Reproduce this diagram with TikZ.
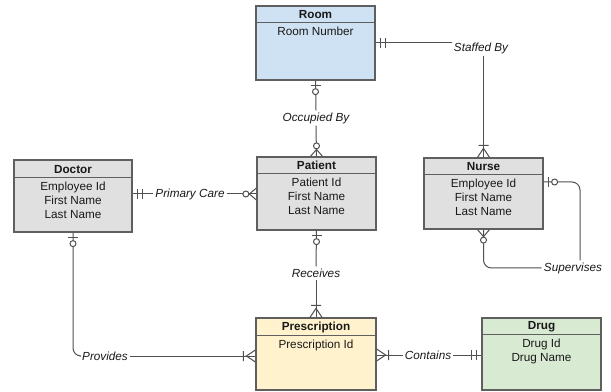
\documentclass[tikz,border=0pt]{standalone}
\usepackage{fontspec}
\setmainfont{Liberation Sans}
\usetikzlibrary{calc}

\definecolor{roomfill}{RGB}{207,226,243}
\definecolor{personfill}{RGB}{224,224,224}
\definecolor{rxfill}{RGB}{255,242,204}
\definecolor{drugfill}{RGB}{217,234,211}
\definecolor{boxline}{RGB}{95,95,95}
\definecolor{linkline}{RGB}{80,80,80}
\definecolor{ink}{RGB}{25,25,25}

\tikzset{
  entity/.style 2 args={draw=boxline, line width=0.95pt, rectangle,
    minimum width=#1*0.75pt, minimum height=#2*0.75pt, inner sep=0pt},
  divider/.style={draw=boxline, line width=0.95pt},
  title/.style={font=\fontsize{8.8}{10}\selectfont\bfseries, text=ink, inner sep=0pt},
  attrs/.style={font=\fontsize{8.8}{10.3}\selectfont, text=ink, align=center,
    inner sep=0pt, anchor=north},
  rel/.style={font=\fontsize{8.8}{10}\selectfont\itshape, text=ink, inner sep=1.5pt},
  conn/.style={draw=linkline, line width=0.75pt},
  marker/.style={draw=linkline, line width=0.75pt},
  mone/.pic={\draw[marker] (5,-5) -- (5,5) (10,-5) -- (10,5);},
  zone/.pic={\draw[marker] (5,-5) -- (5,5);
             \draw[marker, fill=white] (11,0) circle (3);},
  zmany/.pic={\draw[marker] (0,-6) -- (7,0) -- (0,6);
              \draw[marker, fill=white] (10.5,0) circle (3);},
  omany/.pic={\draw[marker] (0,-6) -- (9,0) -- (0,6) (12,-5) -- (12,5);},
}

% draws the header rule, title and attribute list of an entity box
\newcommand{\entitytext}[4]{%
  \draw[divider] ($(#1.north west)+(0,#2)$) -- ($(#1.north east)+(0,#2)$);
  \node[title] (#1-title) at ($(#1.north)+(0,#2/2+0.8)$) {#3};
  \node[attrs] (#1-attrs) at ($(#1.north)+(0,#2+4.5)$) {#4};
}

\begin{document}
\begin{tikzpicture}[x=0.75pt, y=-0.75pt]
\useasboundingbox (0,0) rectangle (611,392);

% entities
\node[entity={119}{74}, fill=roomfill]   (room)    at (315.5,43)  {};
\node[entity={118}{72}, fill=personfill] (doctor)  at (73,196)    {};
\node[entity={119}{73}, fill=personfill] (patient) at (316.5,193.5) {};
\node[entity={119}{71}, fill=personfill] (nurse)   at (483.5,193.5) {};
\node[entity={120}{72}, fill=rxfill]     (rx)      at (316,354)   {};
\node[entity={119}{72}, fill=drugfill]   (drug)    at (541.5,354) {};

\entitytext{room}{17}{Room}{Room Number}
\entitytext{doctor}{18}{Doctor}{Employee Id\\First Name\\Last Name}
\entitytext{patient}{17}{Patient}{Patient Id\\First Name\\Last Name}
\entitytext{nurse}{17}{Nurse}{Employee Id\\First Name\\Last Name}
\entitytext{rx}{18}{Prescription}{Prescription Id}
\entitytext{drug}{17}{Drug}{Drug Id\\Drug Name}

% relationship labels
\node[rel] (staffed) at (481,48)  {Staffed By};
\node[rel] (occ)     at (316,118) {Occupied By};
\node[rel] (pc)      at (190,194) {Primary Care};
\node[rel] (recv)    at (316,273) {Receives};
\node[rel] (sup)     at (573,268) {Supervises};
\node[rel] (prov)    at (105,356) {Provides};
\node[rel] (con)     at (428,355) {Contains};

% connectors
\draw[conn] (room.east) -- (room.east -| staffed.west);
\draw[conn] (staffed.south -| nurse.north) -- (nurse.north);

\draw[conn] (room.south) -- (occ.north);
\draw[conn] (occ.south) -- (patient.north);

\draw[conn] (doctor.east |- pc) -- (pc.west);
\draw[conn] (pc.east) -- (patient.west |- pc);

\draw[conn] (patient.south) -- (recv.north);
\draw[conn] (recv.south) -- (rx.north);

\coordinate (nurse-right) at ($(nurse.east)+(0,-11.5)$);
\draw[conn, rounded corners=6] (nurse-right) -| ($(sup.north)+(7,0)$);
\draw[conn, rounded corners=6] (nurse.south) |- (sup.west);

\draw[conn, rounded corners=6] (doctor.south) |- (prov.west);
\draw[conn] (prov.east) -- (rx.west |- prov);

\draw[conn] (rx.east |- con) -- (con.west);
\draw[conn] (con.east) -- (drug.west |- con);

% cardinality markers
\pic at (room.east) {mone};
\pic[rotate=-90] at (room.south) {zone};
\pic[rotate=90] at (patient.north) {zmany};
\pic[rotate=180] at (patient.west |- pc) {zmany};
\pic[rotate=-90] at (patient.south) {zone};
\pic at (doctor.east |- pc) {mone};
\pic[rotate=-90] at (doctor.south) {zone};
\pic[rotate=90] at (nurse.north) {omany};
\pic at (nurse-right) {zone};
\pic[rotate=-90] at (nurse.south) {zmany};
\pic[rotate=90] at (rx.north) {omany};
\pic[rotate=180] at (rx.west |- prov) {omany};
\pic at (rx.east |- con) {omany};
\pic[rotate=180] at (drug.west |- con) {mone};
\end{tikzpicture}
\end{document}
